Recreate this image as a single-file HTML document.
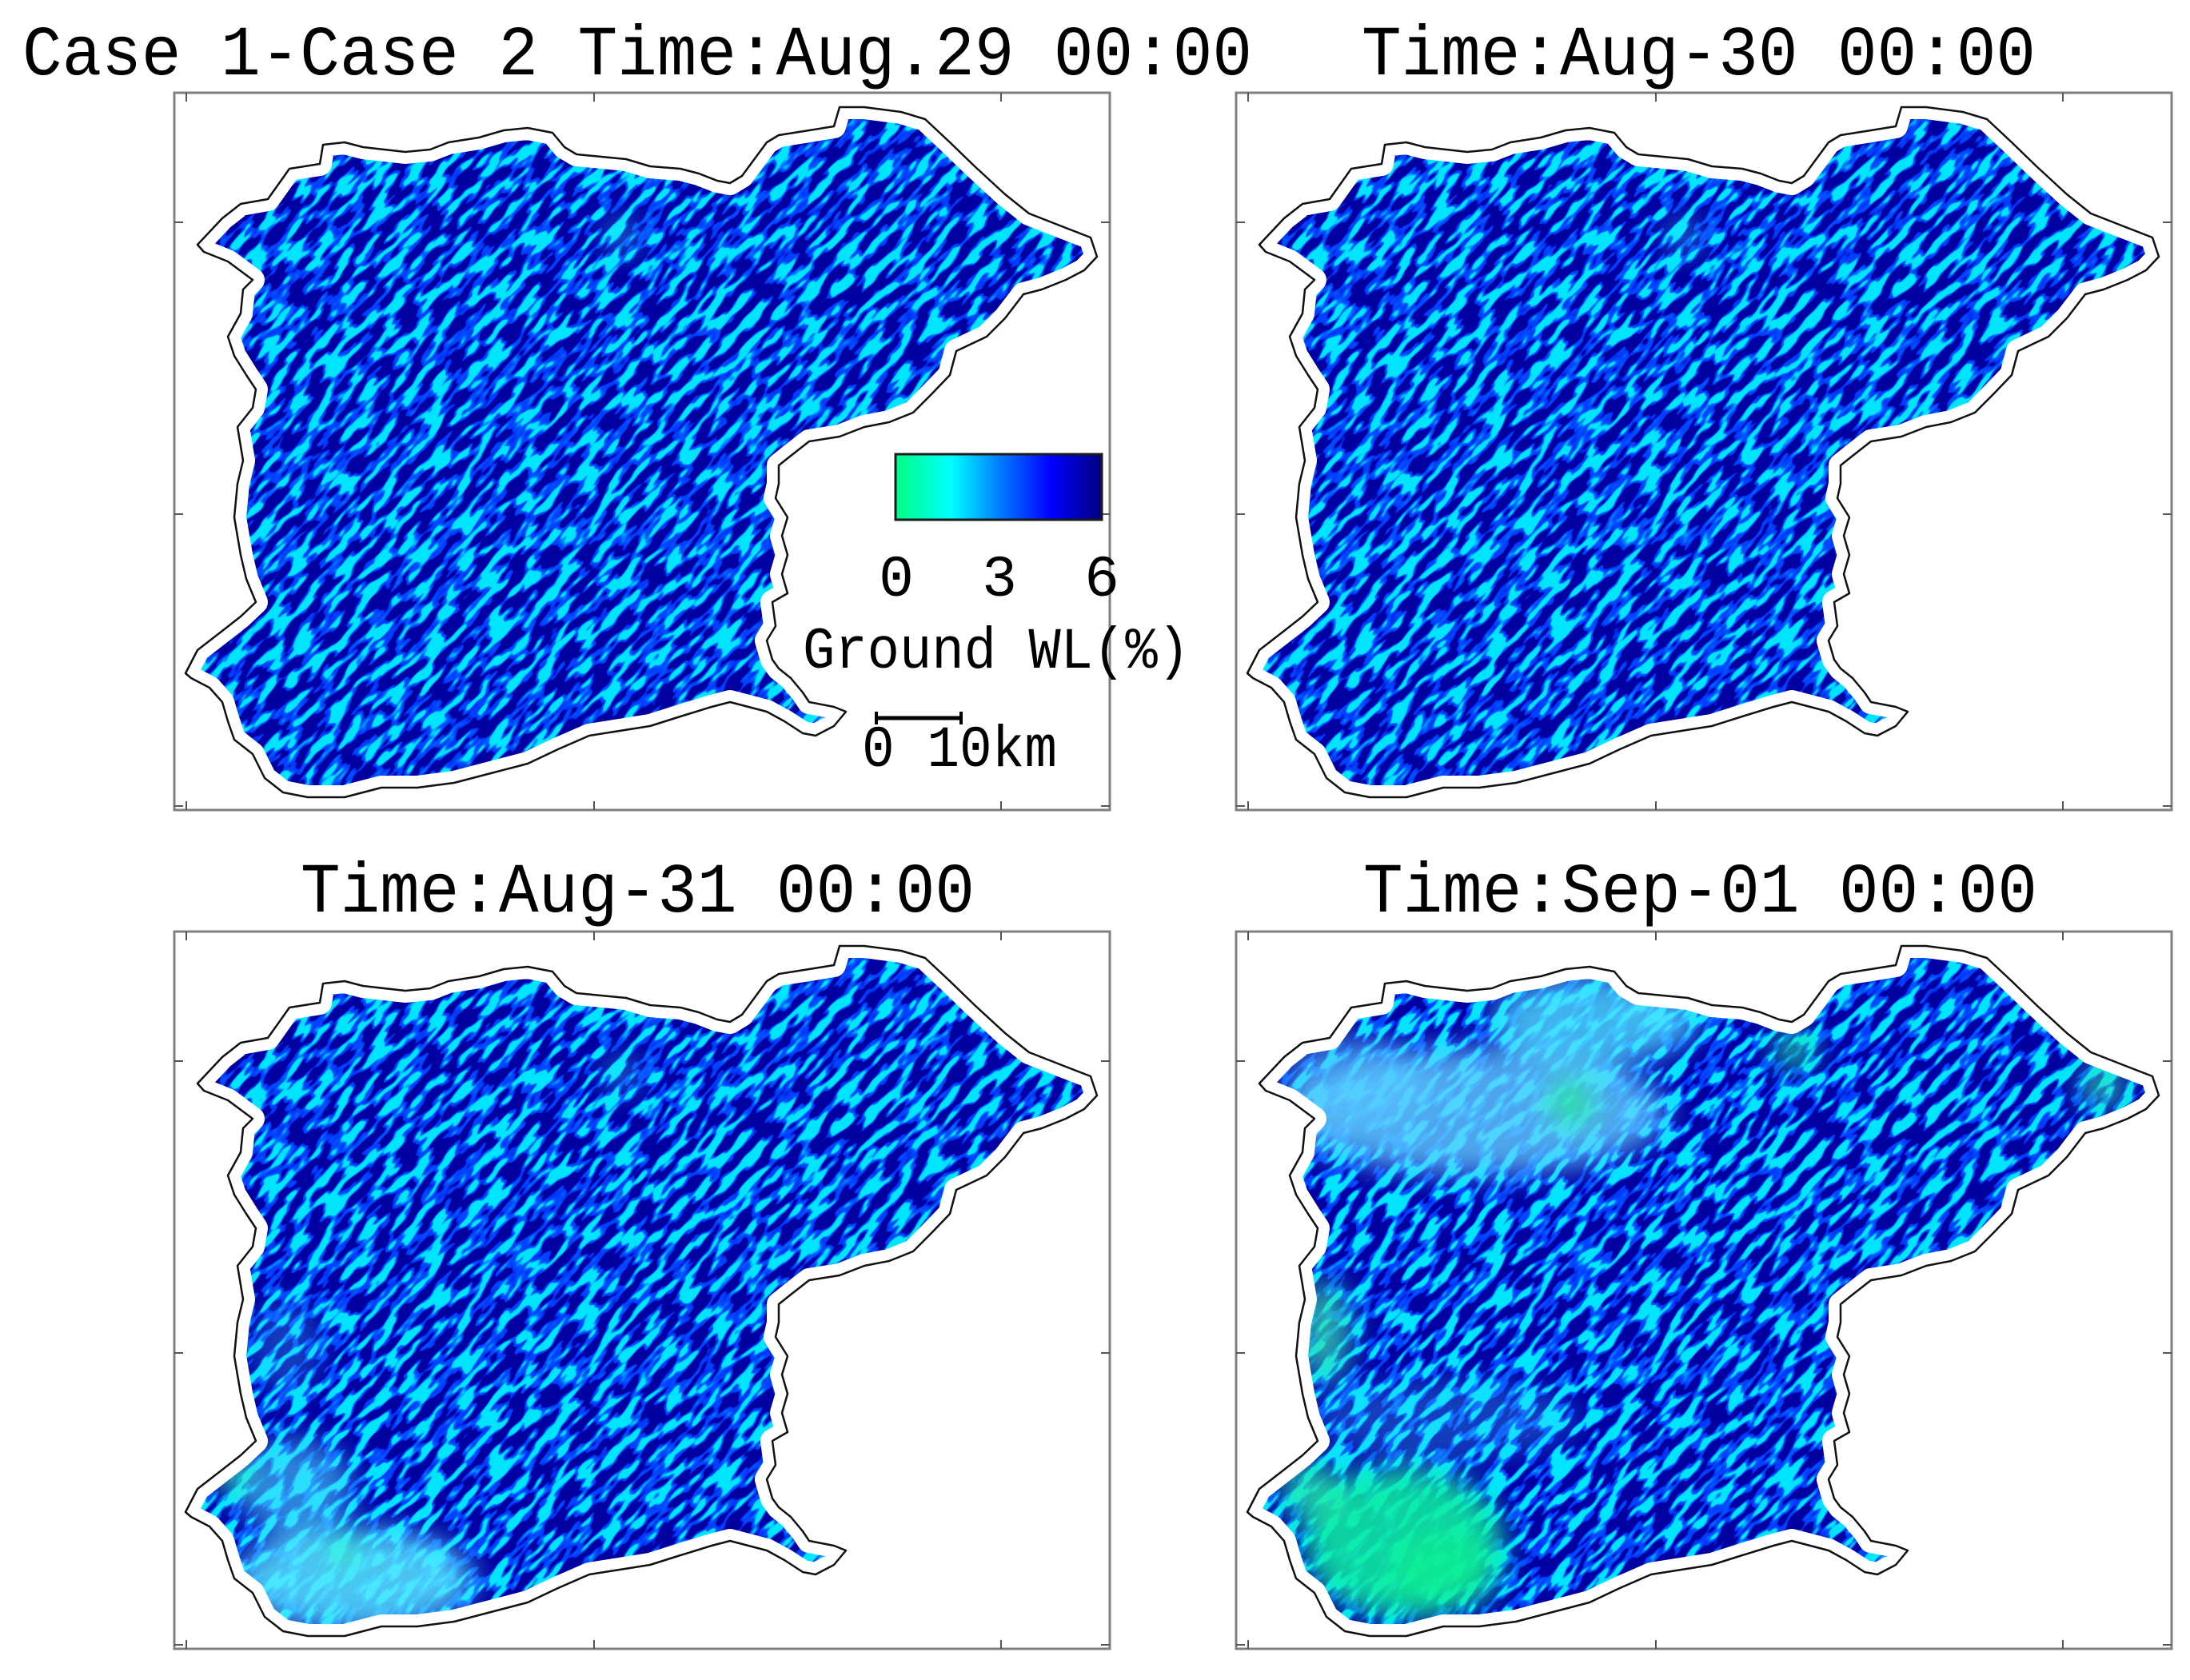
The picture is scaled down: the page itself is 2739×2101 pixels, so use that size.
<!DOCTYPE html>
<html>
<head>
<meta charset="utf-8">
<style>
html,body{margin:0;padding:0;background:#fff;width:2739px;height:2101px;overflow:hidden;}
svg{display:block;overflow:hidden;}
</style>
</head>
<body>
<svg width="2739" height="2101" viewBox="0 0 2739 2101" xmlns="http://www.w3.org/2000/svg" xmlns:xlink="http://www.w3.org/1999/xlink">
<defs>
  <path id="basin" d="M29,190 L60,157 L83,139 L117,133 L144,95 L182,89 L186,65 L213,62 L236,68 L289,74 L320,71 L343,62 L381,56 L412,47 L442,44 L473,50 L488,68 L503,77 L534,80 L565,83 L595,92 L633,95 L656,101 L679,110 L695,113 L710,104 L741,62 L756,53 L794,47 L825,42 L832,18 L863,18 L909,24 L939,33 L970,62 L1001,92 L1039,127 L1069,151 L1115,169 L1146,181 L1154,205 L1138,222 L1115,234 L1085,246 L1062,252 L1039,282 L1016,305 L978,323 L970,353 L947,377 L924,400 L894,412 L863,418 L832,430 L794,436 L771,454 L756,466 L756,489 L752,507 L767,531 L760,554 L767,578 L760,602 L767,626 L748,637 L752,667 L741,685 L748,709 L756,720 L771,732 L786,750 L794,762 L825,768 L840,774 L825,792 L802,804 L786,801 L763,786 L741,774 L718,768 L695,762 L672,768 L633,780 L595,792 L519,804 L480,821 L442,839 L396,851 L350,863 L304,869 L259,869 L213,881 L167,881 L136,875 L113,857 L98,827 L75,809 L67,786 L60,762 L44,744 L21,732 L14,726 L29,697 L60,673 L83,655 L102,637 L90,608 L83,578 L75,531 L79,489 L86,460 L79,418 L98,394 L102,371 L90,353 L75,329 L67,305 L83,276 L86,246 L98,234 L67,211 L37,199 Z"/>
  <clipPath id="clip" clipPathUnits="userSpaceOnUse">
    <use xlink:href="#basin" href="#basin"/>
  </clipPath>
  <filter id="tex" filterUnits="userSpaceOnUse" x="-700" y="-700" width="2600" height="2300" color-interpolation-filters="sRGB">
    <feTurbulence type="fractalNoise" baseFrequency="0.028 0.09" numOctaves="2" seed="7"/>
    <feColorMatrix type="matrix" values="1 0 0 0 0  1 0 0 0 0  1 0 0 0 0  0 0 0 0 1"/>
    <feComponentTransfer>
      <feFuncR type="linear" slope="0" intercept="0"/>
      <feFuncG type="table" tableValues="0 0 0 0 0 0 0 0 0 0 0 0 0 0 0 0 0 0 0 0.2 0.25 0.28 0.35 0.6 0.9 0.9 0.9 0.9 0.9 0.9 0.9 0.9 0.9 0.9 0.9 0.9 0.9 0.9 0.9 0.9 0.9"/>
      <feFuncB type="table" tableValues="0.63 0.63 0.63 0.63 0.63 0.63 0.63 0.63 0.63 0.63 0.63 0.63 0.63 0.63 0.63 0.63 0.63 0.63 0.63 0.95 1 1 1 1 1 1 1 1 1 1 1 1 1 1 1 1 1 1 1 1 1"/>
    </feComponentTransfer>
  </filter>
  <filter id="blur" x="-50%" y="-50%" width="200%" height="200%">
    <feGaussianBlur stdDeviation="18"/>
  </filter>
  <linearGradient id="cbar" x1="0" y1="0" x2="1" y2="0">
    <stop offset="0" stop-color="#00ff80"/>
    <stop offset="0.27" stop-color="#00ffff"/>
    <stop offset="0.5" stop-color="#0080ff"/>
    <stop offset="0.75" stop-color="#0000ff"/>
    <stop offset="1" stop-color="#000080"/>
  </linearGradient>
  <g id="frame">
    <rect x="0" y="0" width="1170" height="897" fill="none" stroke="#808080" stroke-width="3"/>
    <g stroke="#555" stroke-width="2">
      <line x1="15" y1="0" x2="15" y2="11"/>
      <line x1="525" y1="0" x2="525" y2="11"/>
      <line x1="1034" y1="0" x2="1034" y2="11"/>
      <line x1="15" y1="897" x2="15" y2="886"/>
      <line x1="525" y1="897" x2="525" y2="886"/>
      <line x1="1034" y1="897" x2="1034" y2="886"/>
      <line x1="0" y1="162" x2="11" y2="162"/>
      <line x1="0" y1="527" x2="11" y2="527"/>
      <line x1="0" y1="892" x2="11" y2="892"/>
      <line x1="1170" y1="162" x2="1159" y2="162"/>
      <line x1="1170" y1="527" x2="1159" y2="527"/>
      <line x1="1170" y1="892" x2="1159" y2="892"/>
    </g>
  </g>
  <g id="texture">
    <g clip-path="url(#clip)">
      <g transform="rotate(-48 585 450)">
        <rect x="580" y="445" width="10" height="10" fill="#0050e0" filter="url(#tex)"/>
      </g>
    </g>
  </g>
  <g id="outline">
    <use xlink:href="#basin" href="#basin" fill="none" stroke="#ffffff" stroke-width="30" stroke-linejoin="round"/>
    <use xlink:href="#basin" href="#basin" fill="none" stroke="#111111" stroke-width="2.5" stroke-linejoin="round"/>
  </g>
</defs>

<!-- Titles -->
<g font-family="'Liberation Mono','DejaVu Sans Mono',monospace" fill="#000">
  <text x="28" y="93" font-size="88" textLength="1538" lengthAdjust="spacingAndGlyphs">Case 1-Case 2 Time:Aug.29 00:00</text>
  <text x="1703" y="93" font-size="88" textLength="843" lengthAdjust="spacingAndGlyphs">Time:Aug-30 00:00</text>
  <text x="376" y="1140" font-size="88" textLength="843" lengthAdjust="spacingAndGlyphs">Time:Aug-31 00:00</text>
  <text x="1705" y="1140" font-size="88" textLength="843" lengthAdjust="spacingAndGlyphs">Time:Sep-01 00:00</text>
</g>

<!-- Panel 1: top-left -->
<g transform="translate(218,116)">
  <use xlink:href="#texture" href="#texture"/>
  <g clip-path="url(#clip)">
    <g filter="url(#blur)">
      <circle cx="560" cy="180" r="22" fill="#40e8ff" opacity="0.5"/>
    </g>
  </g>
  <use xlink:href="#outline" href="#outline"/>
  <use xlink:href="#frame" href="#frame"/>
</g>

<!-- Panel 2: top-right -->
<g transform="translate(1546,116)">
  <use xlink:href="#texture" href="#texture"/>
  <g clip-path="url(#clip)">
    <g filter="url(#blur)">
      <circle cx="560" cy="180" r="22" fill="#40e8ff" opacity="0.5"/>
    </g>
  </g>
  <use xlink:href="#outline" href="#outline"/>
  <use xlink:href="#frame" href="#frame"/>
</g>

<!-- Panel 3: bottom-left -->
<g transform="translate(218,1165)">
  <use xlink:href="#texture" href="#texture"/>
  <g clip-path="url(#clip)">
    <g filter="url(#blur)">
      <ellipse cx="225" cy="810" rx="150" ry="65" fill="#55e6ff" opacity="0.85"/>
      <ellipse cx="150" cy="695" rx="75" ry="60" fill="#48d8ff" opacity="0.6"/>
      <ellipse cx="140" cy="520" rx="45" ry="60" fill="#40c8ff" opacity="0.3"/>
      <circle cx="74" cy="679" r="22" fill="#20f0a0" opacity="0.9"/>
      <circle cx="212" cy="774" r="25" fill="#30f0c0" opacity="0.6"/>
      <circle cx="560" cy="180" r="22" fill="#40e8ff" opacity="0.5"/>
    </g>
  </g>
  <use xlink:href="#outline" href="#outline"/>
  <use xlink:href="#frame" href="#frame"/>
</g>

<!-- Panel 4: bottom-right -->
<g transform="translate(1546,1165)">
  <use xlink:href="#texture" href="#texture"/>
  <g clip-path="url(#clip)">
    <g filter="url(#blur)">
      <ellipse cx="300" cy="225" rx="240" ry="80" fill="#60d0ff" opacity="0.8"/>
      <ellipse cx="450" cy="110" rx="130" ry="55" fill="#50e0ff" opacity="0.8"/>
      <ellipse cx="150" cy="190" rx="90" ry="60" fill="#58c8ff" opacity="0.6"/>
      <circle cx="419" cy="214" r="30" fill="#20e8a0" opacity="0.9"/>
      <circle cx="698" cy="147" r="25" fill="#20e8a0" opacity="0.85"/>
      <circle cx="1083" cy="194" r="28" fill="#30e0b0" opacity="0.8"/>
      <ellipse cx="210" cy="765" rx="125" ry="95" fill="#10eea0" opacity="0.88"/>
      <ellipse cx="260" cy="800" rx="70" ry="50" fill="#10f090" opacity="0.7"/>
      <ellipse cx="95" cy="700" rx="40" ry="40" fill="#20e8a8" opacity="0.8"/>
      <ellipse cx="110" cy="500" rx="35" ry="65" fill="#30e0b0" opacity="0.75"/>
      <ellipse cx="260" cy="610" rx="170" ry="50" fill="#40d0ff" opacity="0.3"/>
    </g>
  </g>
  <use xlink:href="#outline" href="#outline"/>
  <use xlink:href="#frame" href="#frame"/>
</g>

<!-- Colorbar legend (top-left panel) -->
<rect x="1120" y="568" width="258" height="82" fill="url(#cbar)" stroke="#1a1a1a" stroke-width="3"/>
<g font-family="'Liberation Mono','DejaVu Sans Mono',monospace" fill="#000" font-size="73">
  <text x="1121" y="745" text-anchor="middle">0</text>
  <text x="1250" y="745" text-anchor="middle">3</text>
  <text x="1378" y="745" text-anchor="middle">6</text>
  <text x="1004" y="835" textLength="484" lengthAdjust="spacingAndGlyphs">Ground WL(%)</text>
  <text x="1078" y="958" textLength="244" lengthAdjust="spacingAndGlyphs">0 10km</text>
</g>
<g stroke="#000">
  <line x1="1095" y1="898" x2="1203" y2="898" stroke-width="5"/>
  <line x1="1096" y1="890" x2="1096" y2="906" stroke-width="4"/>
  <line x1="1202" y1="890" x2="1202" y2="906" stroke-width="4"/>
</g>
</svg>
</body>
</html>
